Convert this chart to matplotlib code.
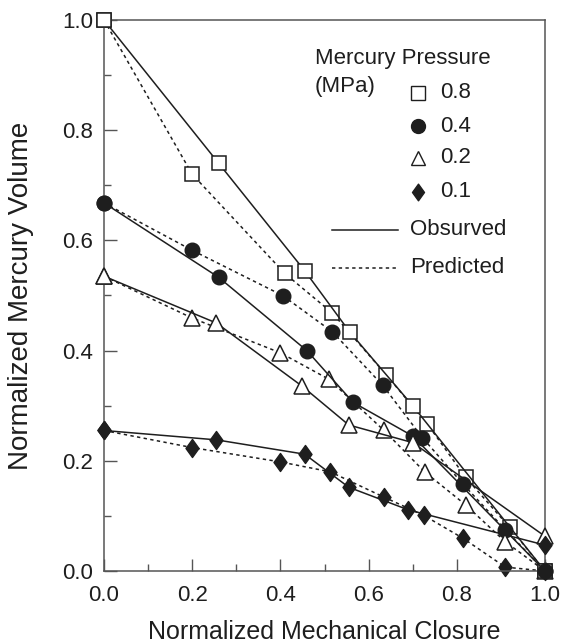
import matplotlib
matplotlib.use("Agg")
import matplotlib.pyplot as plt
from matplotlib.ticker import MultipleLocator, FormatStrFormatter
from matplotlib.path import Path

plt.rcParams['font.family'] = ['Liberation Sans', 'DejaVu Sans']

# ---- data ----
p08_obs_x = [0.0, 0.26, 0.455, 0.557, 0.70, 1.0]
p08_obs_y = [1.0, 0.74, 0.545, 0.434, 0.30, 0.0]
p08_pred_x = [0.0, 0.2, 0.41, 0.518, 0.64, 0.733, 0.82, 0.92, 1.0]
p08_pred_y = [1.0, 0.72, 0.54, 0.468, 0.356, 0.267, 0.17, 0.079, 0.0]

p04_obs_x = [0.0, 0.26, 0.46, 0.565, 0.70, 1.0]
p04_obs_y = [0.668, 0.533, 0.40, 0.306, 0.245, 0.0]
p04_pred_x = [0.0, 0.2, 0.405, 0.518, 0.632, 0.722, 0.815, 0.91, 1.0]
p04_pred_y = [0.668, 0.582, 0.50, 0.434, 0.337, 0.242, 0.157, 0.075, 0.0]

p02_obs_x = [0.0, 0.255, 0.45, 0.555, 0.70, 1.0]
p02_obs_y = [0.535, 0.45, 0.335, 0.265, 0.233, 0.063]
p02_pred_x = [0.0, 0.2, 0.40, 0.51, 0.635, 0.727, 0.82, 0.91, 1.0]
p02_pred_y = [0.535, 0.459, 0.396, 0.348, 0.255, 0.18, 0.12, 0.053, 0.0]

p01_obs_x = [0.0, 0.255, 0.455, 0.555, 0.69, 1.0]
p01_obs_y = [0.255, 0.238, 0.212, 0.152, 0.111, 0.047]
p01_pred_x = [0.0, 0.2, 0.40, 0.513, 0.635, 0.725, 0.815, 0.91, 1.0]
p01_pred_y = [0.255, 0.224, 0.198, 0.18, 0.134, 0.101, 0.059, 0.007, 0.0]

pressures = ["0.8", "0.4", "0.2", "0.1"]
x_label = "Normalized Mechanical Closure"
y_label = "Normalized Mercury Volume"
legend_title_1 = "Mercury Pressure"
legend_title_2 = "(MPa)"
obs_label = "Obsurved"
pred_label = "Predicted"

ink = "#1e1e1e"
dash = (0, (2.2, 2.2))

# diamond a bit wider than matplotlib's thin diamond
diamond = Path([(0, 1), (0.72, 0), (0, -1), (-0.72, 0), (0, 1)],
               [Path.MOVETO, Path.LINETO, Path.LINETO, Path.LINETO, Path.CLOSEPOLY])

styles = [
    dict(marker='s', ms=10.5, mfc='white', mec=ink, mew=1.1),
    dict(marker='o', ms=10.5, mfc=ink, mec=ink, mew=1.0),
    dict(marker='^', ms=11.5, mfc='white', mec=ink, mew=1.1),
    dict(marker=diamond, ms=13, mfc=ink, mec=ink, mew=1.0),
]
series = [
    (p08_obs_x, p08_obs_y, p08_pred_x, p08_pred_y),
    (p04_obs_x, p04_obs_y, p04_pred_x, p04_pred_y),
    (p02_obs_x, p02_obs_y, p02_pred_x, p02_pred_y),
    (p01_obs_x, p01_obs_y, p01_pred_x, p01_pred_y),
]

fig = plt.figure(figsize=(5.61, 6.44), dpi=100)
ax = fig.add_axes([104 / 561, 1 - 571 / 644, 441 / 561, 551 / 644])

for (ox, oy, px, py), st in zip(series, styles):
    ax.plot(px, py, color=ink, lw=1.1, linestyle=dash, clip_on=False, zorder=2, **st)
    ax.plot(ox, oy, color=ink, lw=1.1, linestyle='-', clip_on=False, zorder=3, **st)

ax.set_xlim(0, 1)
ax.set_ylim(0, 1)
ax.xaxis.set_major_locator(MultipleLocator(0.2))
ax.xaxis.set_minor_locator(MultipleLocator(0.1))
ax.yaxis.set_major_locator(MultipleLocator(0.2))
ax.yaxis.set_minor_locator(MultipleLocator(0.1))
ax.xaxis.set_major_formatter(FormatStrFormatter('%.1f'))
ax.yaxis.set_major_formatter(FormatStrFormatter('%.1f'))
ax.tick_params(which='major', direction='in', length=9, width=1.0, color='#555555',
               labelsize=16, labelcolor=ink)
ax.tick_params(which='minor', direction='in', length=5, width=1.0, color='#555555')
ax.tick_params(axis='x', which='major', pad=10)
ax.tick_params(axis='y', which='major', pad=8)
for s in ax.spines.values():
    s.set_color('#555555')
    s.set_linewidth(1.1)

ax.set_xlabel(x_label, fontsize=18, color=ink, va='center')
ax.set_ylabel(y_label, fontsize=20, color=ink, va='center')
ax.xaxis.set_label_coords(0.5, (571 - 632) / 551)
ax.yaxis.set_label_coords((21 - 104) / 441, 0.5)

# ---- legend drawn by hand ----
T = ax.transAxes
ax.text(0.478, 0.931, legend_title_1, transform=T, fontsize=16, color=ink,
        va='center', ha='left')
ax.text(0.478, 0.879, legend_title_2, transform=T, fontsize=16, color=ink,
        va='center', ha='left')
rows = [0.868, 0.807, 0.750, 0.688]
leg_styles = [
    dict(marker='s', ms=10, mfc='white', mec=ink, mew=1.0),
    dict(marker='o', ms=10, mfc=ink, mec=ink),
    dict(marker='^', ms=10, mfc='white', mec=ink, mew=1.0),
    dict(marker=diamond, ms=12, mfc=ink, mec=ink),
]
for yv, lab, st in zip(rows, pressures, leg_styles):
    ax.plot([0.712], [yv], transform=T, linestyle='none', clip_on=False, **st)
    ax.text(0.762, yv, lab, transform=T, fontsize=16, color=ink, va='center', ha='left')
ax.plot([0.517, 0.667], [0.619, 0.619], transform=T, color=ink, lw=1.1)
ax.text(0.694, 0.619, obs_label, transform=T, fontsize=16, color=ink, va='center', ha='left')
ax.plot([0.517, 0.667], [0.550, 0.550], transform=T, color=ink, lw=1.1, linestyle=dash)
ax.text(0.694, 0.550, pred_label, transform=T, fontsize=16, color=ink, va='center', ha='left')

fig.savefig("out.png", dpi=100)
